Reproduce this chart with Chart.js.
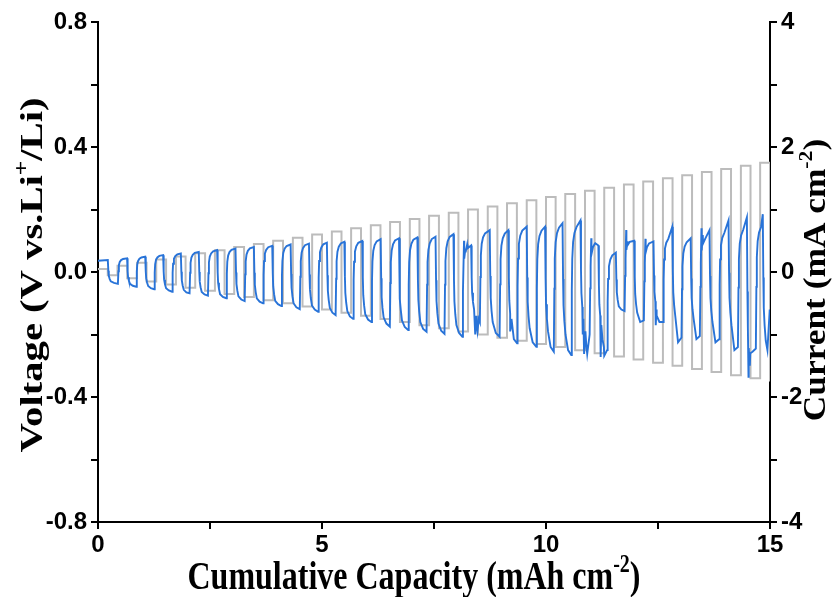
<!DOCTYPE html>
<html><head><meta charset="utf-8">
<script src="https://cdn.jsdelivr.net/npm/chart.js@4.4.0/dist/chart.umd.min.js"></script>
<style>html,body{margin:0;padding:0;background:#fff;}#wrap{width:837px;height:597px;}</style>
</head><body><div id="wrap"><canvas id="c" width="837" height="597"></canvas></div>
<script>
// ---- Current (gray): cycle start capacities (last entry = end of last cycle) and amplitudes ----
const currentCycleStart = [0, 0.435, 0.87, 1.30, 1.74, 2.17, 2.61, 3.04, 3.48, 3.91, 4.35, 4.78, 5.22, 5.65, 6.09, 6.52, 6.96, 7.39, 7.83, 8.26, 8.70, 9.13, 9.57, 10.00, 10.43, 10.87, 11.30, 11.74, 12.17, 12.61, 13.04, 13.48, 13.91, 14.35, 14.78, 15.22];
const currentAmp = [0.05,0.10,0.15,0.20,0.25,0.30,0.35,0.40,0.45,0.50,0.55,0.60,0.65,0.70,0.75,0.80,0.85,0.90,0.95,1.00,1.05,1.10,1.15,1.20,1.25,1.30,1.35,1.40,1.45,1.50,1.55,1.60,1.65,1.70,1.75];

// ---- Voltage (blue): cycle start capacities (last entry = end) ----
const voltCycleStart = [0, 0.45, 0.86, 1.26, 1.66, 2.05, 2.46, 2.87, 3.28, 3.69, 4.10, 4.51, 4.92, 5.31, 5.70, 6.11, 6.52, 6.93, 7.34, 7.74, 8.14, 8.53, 8.97, 9.36, 9.79, 10.18, 10.57, 10.98, 11.37, 11.76, 12.19, 12.62, 13.03, 13.44, 13.87, 14.29, 14.69, 15.00];
// per cycle: voltage after the rise, before the fall, after the drop, middle of negative half, end of negative half
const voltTopStart = [0.036,0.043,0.048,0.053,0.058,0.063,0.068,0.073,0.078,0.082,0.086,0.089,0.092,0.095,0.097,0.102,0.105,0.108,0.110,0.117,0.080,0.128,0.128,0.138,0.138,0.148,0.150,0.095,0.058,0.100,0.095,0.110,0.100,0.110,0.130,0.140,0.150];
const voltTopEnd   = [0.038,0.044,0.049,0.054,0.059,0.064,0.070,0.075,0.080,0.084,0.088,0.091,0.094,0.097,0.099,0.105,0.108,0.111,0.113,0.121,0.085,0.134,0.134,0.145,0.145,0.156,0.165,0.085,0.062,0.100,0.098,0.145,0.108,0.134,0.165,0.175,0.185];
const voltBotStart = [-0.030,-0.038,-0.045,-0.052,-0.057,-0.064,-0.071,-0.078,-0.084,-0.092,-0.100,-0.107,-0.115,-0.125,-0.135,-0.145,-0.155,-0.160,-0.165,-0.170,-0.120,-0.160,-0.170,-0.180,-0.190,-0.200,-0.150,-0.170,-0.110,-0.130,-0.120,-0.140,-0.150,-0.160,-0.170,-0.300,-0.220];
const voltBotMid   = [-0.035,-0.044,-0.052,-0.059,-0.065,-0.072,-0.080,-0.088,-0.095,-0.103,-0.113,-0.120,-0.130,-0.142,-0.152,-0.165,-0.176,-0.182,-0.188,-0.195,-0.170,-0.195,-0.215,-0.225,-0.240,-0.250,-0.230,-0.240,-0.120,-0.160,-0.160,-0.225,-0.215,-0.225,-0.250,-0.255,-0.250];
const voltBotEnd   = [-0.038,-0.047,-0.055,-0.063,-0.068,-0.076,-0.084,-0.093,-0.100,-0.109,-0.119,-0.127,-0.138,-0.150,-0.160,-0.175,-0.186,-0.191,-0.198,-0.207,-0.160,-0.207,-0.228,-0.239,-0.255,-0.266,-0.200,-0.250,-0.125,-0.155,-0.160,-0.210,-0.205,-0.215,-0.240,-0.245,-0.120];
// noisy excursions read from the later cycles: [capacity, voltage]
const voltSpikes = [[8.17,0.100],[8.20,0.074],[8.24,0.088],[8.42,-0.200],[8.44,-0.140],[8.47,-0.190],[8.50,-0.150],
  [9.20,-0.190],[9.23,-0.150],[10.82,-0.200],[10.85,-0.262],[10.88,-0.190],[10.92,-0.262],
  [11.01,0.108],[11.05,0.080],[11.10,0.092],[11.22,-0.272],[11.26,-0.215],[11.30,-0.268],
  [11.79,0.134],[11.82,0.098],[12.22,0.106],[12.45,-0.170],[12.47,-0.140],[13.47,0.140],[13.50,0.118],
  [14.52,-0.335],[14.56,-0.260]];

// ---- tick labels ----
const xTickValues = [0, 5, 10, 15];
const xTickLabels = ['0', '5', '10', '15'];
const voltTickValues = [-0.8, -0.4, 0, 0.4, 0.8];
const voltTickLabels = ['-0.8', '-0.4', '0.0', '0.4', '0.8'];
const currTickValues = [-4, -2, 0, 2, 4];
const currTickLabels = ['-4', '-2', '0', '2', '4'];

// ---- build line tables from the arrays ----
const currentPts = [];
for (let k = 0; k < currentAmp.length; k++) {
  const s = currentCycleStart[k], e = currentCycleStart[k + 1], m = (s + e) / 2, a = currentAmp[k];
  currentPts.push({x: s, y: a}, {x: m, y: a}, {x: m, y: -a}, {x: e, y: -a});
}
// relaxation shape of each transition: [capacity offset, fraction of the jump]
const riseShape = [[0.006, 0.50], [0.016, 0.74], [0.035, 0.87], [0.065, 0.94], [0.11, 0.985]];
const fallShape = [[0.006, 0.50], [0.016, 0.74], [0.035, 0.88], [0.06, 1.0]];
let voltPts = [];
for (let k = 0; k < voltTopStart.length; k++) {
  const s = voltCycleStart[k], e = voltCycleStart[k + 1], m = (s + e) / 2;
  const tA = voltTopStart[k], tB = voltTopEnd[k], bA = voltBotStart[k], bM = voltBotMid[k], bB = voltBotEnd[k];
  if (k === 0) {
    voltPts.push({x: 0, y: tA});
  } else {
    const pb = voltBotEnd[k - 1], d = tA - pb;
    riseShape.forEach(r => voltPts.push({x: s + r[0], y: pb + d * r[1]}));
  }
  voltPts.push({x: m - 0.006, y: tB});
  const d2 = bA - tB;
  fallShape.forEach(r => voltPts.push({x: m + r[0], y: tB + d2 * r[1]}));
  voltPts.push({x: (m + e) / 2 + 0.02, y: bM}, {x: e - 0.006, y: bB});
}
voltSpikes.forEach(p => voltPts.push({x: p[0], y: p[1]}));
voltPts.sort((a, b) => a.x - b.x);

function pick(values, labels) {
  return function (v) {
    for (let i = 0; i < values.length; i++) if (Math.abs(values[i] - v) < 1e-6) return labels[i];
    return '';
  };
}

const tickFont = {family: '"Liberation Sans", Arial, sans-serif', weight: 'bold', size: 24};
const gridCfg = {drawOnChartArea: false, drawTicks: true, tickLength: 7, color: '#000', lineWidth: 2};
const borderCfg = {display: true, color: '#000', width: 2};

function drawRich(ctx, parts, cx, cy, rot, size, sAlong, sAcross) {
  ctx.save();
  ctx.translate(cx, cy);
  ctx.rotate(rot);
  ctx.scale(sAlong, sAcross);
  ctx.fillStyle = '#000';
  ctx.textBaseline = 'alphabetic';
  const fMain = 'bold ' + size + 'px "Liberation Serif", "Times New Roman", serif';
  const fSup = 'bold ' + Math.round(size * 0.62) + 'px "Liberation Serif", "Times New Roman", serif';
  let total = 0;
  const widths = parts.map(p => { ctx.font = p.sup ? fSup : fMain; const w = ctx.measureText(p.t).width; total += w; return w; });
  let x = -total / 2;
  parts.forEach((p, i) => {
    ctx.font = p.sup ? fSup : fMain;
    ctx.fillText(p.t, x, p.sup ? size * 0.33 - size * 0.42 : size * 0.33);
    x += widths[i];
  });
  ctx.restore();
}

const titlePlugin = {
  id: 'titles',
  afterDraw(chart) {
    const ctx = chart.ctx;
    drawRich(ctx, [{t: 'Cumulative Capacity (mAh cm'}, {t: '-2', sup: true}, {t: ')'}], 414, 576, 0, 32, 1, 1.25);
    drawRich(ctx, [{t: 'Voltage (V vs.Li'}, {t: '+', sup: true}, {t: '/Li)'}], 31, 275, -Math.PI / 2, 32, 1.27, 1);
    drawRich(ctx, [{t: 'Current (mA cm'}, {t: '-2', sup: true}, {t: ')'}], 815, 280, -Math.PI / 2, 31, 1.14, 1);
  }
};

new Chart(document.getElementById('c').getContext('2d'), {
  type: 'line',
  data: {
    datasets: [
      {label: 'Voltage', data: voltPts, yAxisID: 'y', borderColor: '#2873d8', borderWidth: 1.9, pointRadius: 0, tension: 0, fill: false},
      {label: 'Current', data: currentPts, yAxisID: 'y1', borderColor: '#bcbcbc', borderWidth: 2, pointRadius: 0, tension: 0, fill: false}
    ]
  },
  options: {
    responsive: false, animation: false, devicePixelRatio: 1,
    layout: {padding: {top: 22, left: 0, right: 0, bottom: 0}},
    plugins: {legend: {display: false}, tooltip: {enabled: false}},
    scales: {
      x: {type: 'linear', min: 0, max: 15,
          ticks: {stepSize: 2.5, autoSkip: false, maxRotation: 0, callback: pick(xTickValues, xTickLabels), font: tickFont, color: '#000', padding: 2},
          grid: gridCfg, border: borderCfg, afterFit: s => { s.height = 75; }},
      y: {type: 'linear', position: 'left', min: -0.8, max: 0.8,
          ticks: {stepSize: 0.2, autoSkip: false, callback: pick(voltTickValues, voltTickLabels), font: tickFont, color: '#000', padding: 4},
          grid: gridCfg, border: borderCfg, afterFit: s => { s.width = 98; }},
      y1: {type: 'linear', position: 'right', min: -4, max: 4,
          ticks: {stepSize: 1, autoSkip: false, callback: pick(currTickValues, currTickLabels), font: tickFont, color: '#000', padding: 4},
          grid: gridCfg, border: borderCfg, afterFit: s => { s.width = 67; }}
    }
  },
  plugins: [titlePlugin]
});
</script></body></html>
